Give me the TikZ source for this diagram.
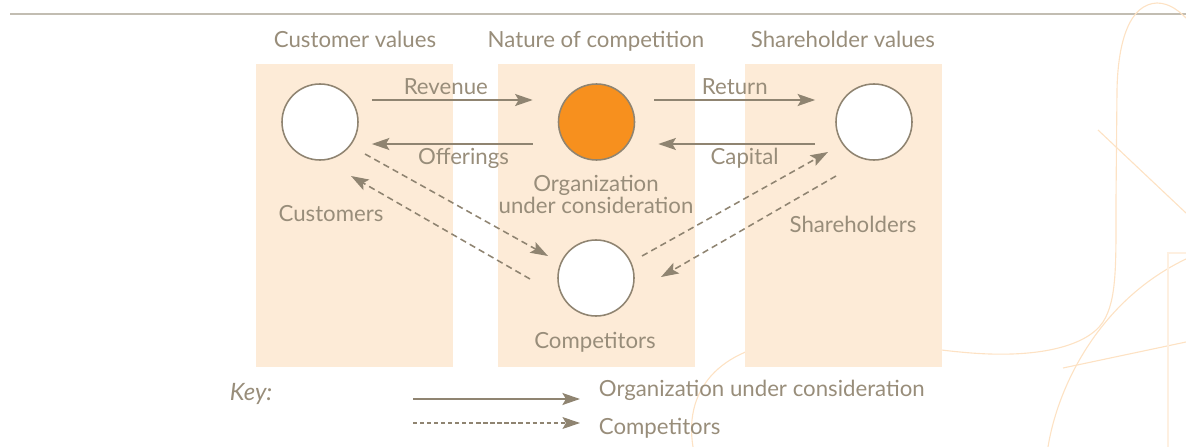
\documentclass[tikz,border=0pt]{standalone}
\usepackage{fontspec}
\setmainfont{Lato}
\usetikzlibrary{arrows.meta,calc}
\definecolor{ink}{RGB}{152,141,122}
\definecolor{arrowgray}{RGB}{143,132,113}
\definecolor{band}{RGB}{253,235,215}
\definecolor{orgfill}{RGB}{247,144,30}
\definecolor{deco}{RGB}{253,226,196}
\definecolor{rulegray}{RGB}{194,189,178}

\begin{document}
\begin{tikzpicture}[x=0.025cm, y=-0.025cm,
    every node/.style={text=ink, font=\fontsize{15.8}{18}\selectfont},
    actor/.style={circle, draw=arrowgray, line width=1.1pt, fill=white, minimum size=1.9cm, inner sep=0pt},
    flow/.style={draw=arrowgray, line width=1.4pt, -{Stealth[length=12.5pt,width=8.5pt,inset=2.5pt]}},
    rival/.style={draw=arrowgray, line width=1.1pt, dash pattern=on 4.5pt off 3pt, -{Stealth[length=12.5pt,width=8.5pt,inset=2.5pt]}},
    keyrival/.style={draw=arrowgray, line width=0.8pt, dash pattern=on 3pt off 2pt, -{Stealth[length=12.5pt,width=8.5pt,inset=2.5pt]}}]
    \useasboundingbox (0,0) rectangle (1186,447);

    % background
    \draw[rulegray, line width=1.4pt] (10,14) -- (1186,14);
    \draw[deco, line width=0.8pt] (693,447) .. controls (683,385) and (725,345) .. (800,340)
	.. controls (870,336) and (915,348) .. (960,352)
	.. controls (1040,360) and (1088,345) .. (1103,322)
	.. controls (1117,300) and (1116,265) .. (1116,200) -- (1117,90)
	.. controls (1118,40) and (1130,4) .. (1157,3)
	.. controls (1170,3) and (1180,12) .. (1186,18);
    \draw[deco, line width=0.8pt] (1048,447) .. controls (1058,385) and (1100,300) .. (1186,259);
    \draw[deco, line width=0.8pt] (1098,130) -- (1186,213);
    \draw[deco, line width=0.8pt] (1063,368) -- (1186,342);
    \draw[deco!50, line width=0.8pt] (1186,253) -- (1168,253) -- (1168,447);

    \foreach \x in {256,498,745}
	\fill[band] (\x,64) rectangle ++(197,303);

    \node[anchor=base] (cvals) at (355,47) {Customer values};
    \node[anchor=base] (ncomp) at (596,47) {Nature of competition};
    \node[anchor=base] (svals) at (843,47) {Shareholder values};

    \node[actor] (cust) at (320,122) {};
    \node[actor, fill=orgfill] (org) at (596.5,122) {};
    \node[actor] (share) at (874,122) {};
    \node[actor] (comp) at (596,278) {};

    \node[anchor=base] (custlbl) at (331,221) {Customers};
    \node[align=center, anchor=north, font=\fontsize{15.8}{15.6}\selectfont] (orglbl) at (596,170) {Organization\\under consideration};
    \node[anchor=base] (sharelbl) at (853,232) {Shareholders};
    \node[anchor=base] (complbl) at (595,348) {Competitors};

    \draw[flow] ($(cust.east)+(13,-22)$) -- ($(org.west)+(-25,-22)$)
	node[pos=0.46, above] (rev) {Revenue};
    \draw[flow] ($(org.west)+(-25,22)$) -- ($(cust.east)+(13,22)$)
	node[pos=0.43, below, inner sep=2pt] (offer) {Offerings};
    \draw[flow] ($(org.east)+(19,-22)$) -- ($(share.west)+(-20,-22)$)
	node[midway, above] (ret) {Return};
    \draw[flow] ($(share.west)+(-20,22)$) -- ($(org.east)+(23,22)$)
	node[pos=0.45, below, inner sep=2pt] (cap) {Capital};

    \draw[rival] ($(cust)+(45,32)$) -- ($(comp)+(-48,-22)$);
    \draw[rival] ($(comp)+(-66,1)$) -- ($(cust)+(31,54)$);
    \draw[rival] ($(comp)+(46,-22)$) -- ($(share)+(-46,30)$);
    \draw[rival] ($(share)+(-38,54)$) -- ($(comp)+(65,-1)$);

    % key
    \node[anchor=base west, font=\fontsize{17}{18}\selectfont\itshape] (key) at (225,400) {Key:};
    \node[anchor=base west] (keyorg) at (594,396) {Organization under consideration};
    \node[anchor=base west] (keycomp) at (594,434) {Competitors};
    \coordinate (korg) at (413,399);
    \coordinate (kcomp) at (413,423);
    \draw[flow] (korg) -- ($(keyorg.west |- korg)+(-14,0)$);
    \draw[keyrival] (kcomp) -- ($(keycomp.west |- kcomp)+(-14,0)$);
\end{tikzpicture}
\end{document}
